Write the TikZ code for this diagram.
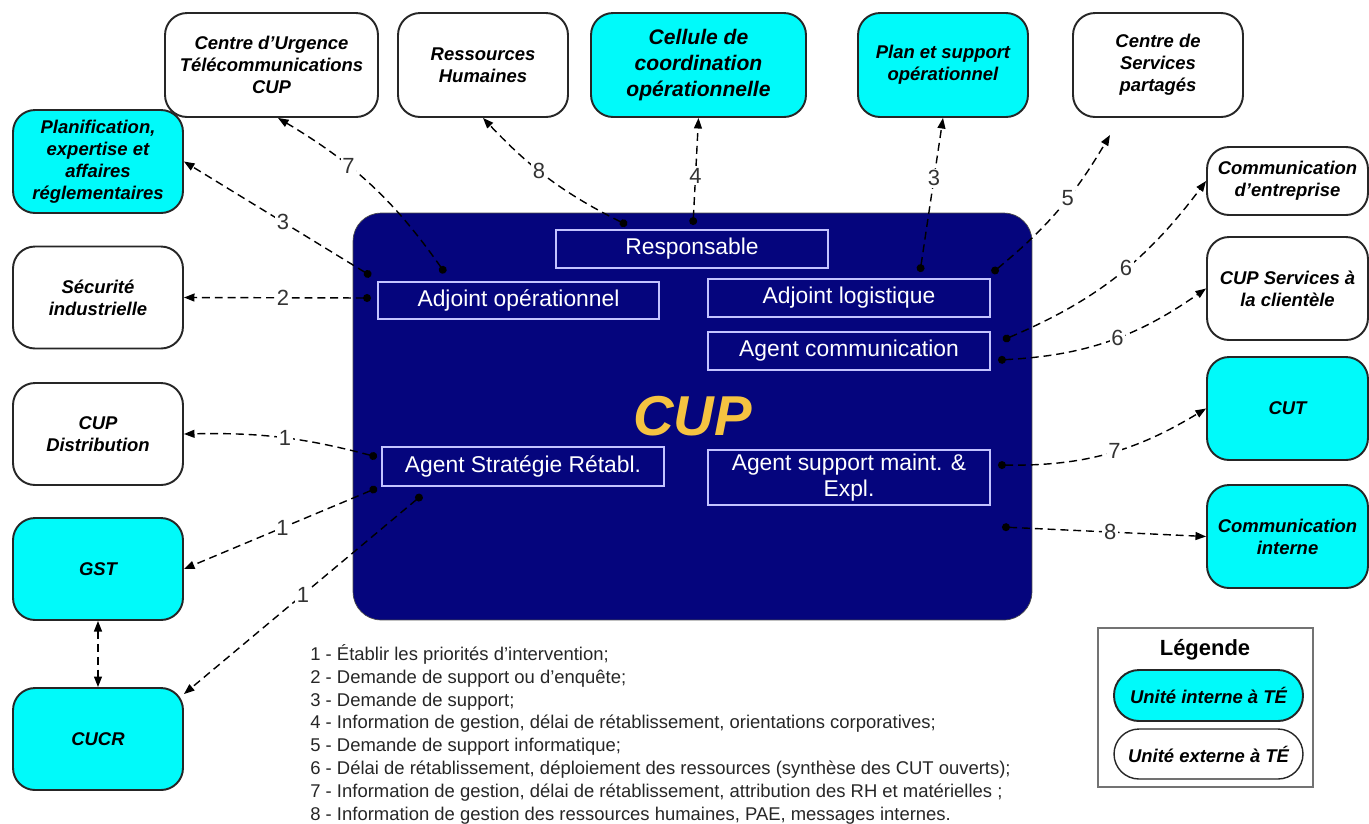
\documentclass[tikz,border=0pt]{standalone}
\usepackage{fontspec}
\setmainfont{Liberation Sans}
\usetikzlibrary{arrows.meta}

\definecolor{cyanTE}{RGB}{0,250,250}
\definecolor{navyTE}{RGB}{5,5,125}
\definecolor{cupgold}{RGB}{245,195,65}
\definecolor{posteline}{RGB}{195,195,255}

\begin{document}
\begin{tikzpicture}[x=0.02cm, y=-0.02cm,
        unit/.style={draw=black!85, line width=1.1pt, rounded corners=0.44cm, align=center, font=\bfseries\itshape\fontsize{10.5}{12.5}\selectfont},
        interne/.style={unit, fill=cyanTE},
        externe/.style={unit, fill=white},
        poste/.style={draw=posteline, line width=0.8pt, text=white, align=center, inner sep=1pt, font=\fontsize{13}{14.8}\selectfont},
        flux/.style={line width=0.8pt, dash pattern=on 4.5pt off 2.8pt, {Circle[length=4.5pt]}-{Triangle[length=6pt,width=4.5pt]}},
        num/.style={fill=white, inner sep=1pt, text=black!80, font=\fontsize{12.5}{12.5}\selectfont}]
        \useasboundingbox (0,0) rectangle (1369,823);

        % Central unit and its posts
        \node[draw=black!70, fill=navyTE, rounded corners=0.56cm, minimum width=13.58cm, minimum height=8.14cm,
              text=cupgold, font=\bfseries\itshape\fontsize{32}{32}\selectfont] (cup) at (692.5,416.5) {CUP};
        \node[poste, minimum width=5.44cm, minimum height=0.76cm] (resp) at (692,249) {Responsable};
        \node[poste, minimum width=5.62cm, minimum height=0.74cm] (adjop) at (518.5,300.5) {Adjoint opérationnel};
        \node[poste, minimum width=5.64cm, minimum height=0.76cm] (adjlog) at (849,298) {Adjoint logistique};
        \node[poste, minimum width=5.64cm, minimum height=0.76cm] (agcom) at (849,351) {Agent communication};
        \node[poste, minimum width=5.64cm, minimum height=0.78cm] (agstrat) at (523,466.5) {Agent Stratégie Rétabl.};
        \node[poste, minimum width=5.64cm, minimum height=1.1cm] (agsup) at (849,477.5) {Agent support maint. \&\\Expl.};

        % Top row
        \node[externe, minimum width=4.26cm, minimum height=2.08cm] (urgence) at (271.5,65) {Centre d’Urgence\\Télécommunications\\CUP};
        \node[externe, minimum width=3.4cm, minimum height=2.08cm] (rh) at (483,65) {Ressources\\Humaines};
        \node[interne, minimum width=4.3cm, minimum height=2.08cm, font=\bfseries\itshape\fontsize{12}{14.7}\selectfont] (cellule) at (698.5,65) {Cellule de\\coordination\\opérationnelle};
        \node[interne, minimum width=3.4cm, minimum height=2.08cm] (plan) at (943,65) {Plan et support\\opérationnel};
        \node[externe, minimum width=3.4cm, minimum height=2.08cm] (csp) at (1158,65) {Centre de\\Services\\partagés};

        % Left column
        \node[interne, minimum width=3.4cm, minimum height=2.06cm] (planif) at (98,161.5) {Planification,\\expertise et\\affaires\\réglementaires};
        \node[externe, minimum width=3.4cm, minimum height=2.04cm] (securite) at (98,297.5) {Sécurité\\industrielle};
        \node[externe, minimum width=3.4cm, minimum height=2.04cm] (distrib) at (98,434) {CUP\\Distribution};
        \node[interne, minimum width=3.4cm, minimum height=2.04cm] (gst) at (98,569) {GST};
        \node[interne, minimum width=3.4cm, minimum height=2.04cm] (cucr) at (98,739) {CUCR};

        % Right column
        \node[externe, minimum width=3.22cm, minimum height=1.36cm] (comment) at (1287.5,181) {Communication\\d’entreprise};
        \node[externe, minimum width=3.22cm, minimum height=2.06cm] (servclient) at (1287.5,288.5) {CUP Services à\\la clientèle};
        \node[interne, minimum width=3.22cm, minimum height=2.06cm] (cut) at (1287.5,408.5) {CUT};
        \node[interne, minimum width=3.22cm, minimum height=2.06cm] (comint) at (1287.5,536.5) {Communication\\interne};

        % Start points of the flows
        \coordinate (d7a) at (445,273);
        \coordinate (d3a) at (371,276);
        \coordinate (d2) at (371,298);
        \coordinate (d8a) at (627,225);
        \coordinate (d4) at (693,225);
        \coordinate (d3b) at (920,272);
        \coordinate (d5) at (992,273);
        \coordinate (d6a) at (1003,340);
        \coordinate (d6b) at (998,360);
        \coordinate (d7b) at (998,465);
        \coordinate (d8b) at (1002,527);
        \coordinate (d1a) at (377,457);
        \coordinate (d1b) at (377,488);
        \coordinate (d1c) at (422,495);
        \coordinate (t5) at (1110,135);

        % Flows
        \draw[flux] (d7a) to[bend right=12] node[num, pos=0.64] {7} ([xshift=0.13cm]urgence.south);
        \draw[flux] (d3a) -- node[num, pos=0.47] {3} (planif.east);
        \draw[flux] (d2) -- node[num, pos=0.47] {2} (securite.east);
        \draw[flux] (d8a) to[bend left=10] node[num, pos=0.58] {8} (rh.south);
        \draw[flux] (d4) -- node[num, pos=0.46] {4} (cellule.south);
        \draw[flux] (d3b) -- node[num, pos=0.61] {3} (plan.south);
        \draw[flux] (d5) to[bend right=10] node[num, pos=0.59] {5} (t5);
        \draw[flux] (d6a) to[bend right=15] node[num, pos=0.55] {6} (comment.west);
        \draw[flux] (d6b) to[bend right=16] node[num, pos=0.55] {6} (servclient.west);
        \draw[flux] (d7b) to[bend right=16] node[num, pos=0.54] {7} (cut.west);
        \draw[flux] (d8b) -- node[num, pos=0.53] {8} (comint.west);
        \draw[flux] (d1a) to[bend right=8] node[num, pos=0.48] {1} (distrib.east);
        \draw[flux] (d1b) -- node[num, pos=0.49] {1} (gst.east);
        \draw[flux] (d1c) -- node[num, pos=0.5] {1} ([yshift=-0.14cm]cucr.north east);
        \draw[line width=0.8pt, dash pattern=on 4.5pt off 2.8pt, {Triangle[length=6pt,width=4.5pt]}-{Triangle[length=6pt,width=4.5pt]}] (gst.south) -- (cucr.north);

        % Key to the numbers
        \node[anchor=north west, inner sep=0pt, align=left, text=black!85, font=\fontsize{10.5}{13}\selectfont] (notes) at (310,644) {%
            1 - Établir les priorités d’intervention;\\
            2 - Demande de support ou d’enquête;\\
            3 - Demande de support;\\
            4 - Information de gestion, délai de rétablissement, orientations corporatives;\\
            5 - Demande de support informatique;\\
            6 - Délai de rétablissement, déploiement des ressources (synthèse des CUT ouverts);\\
            7 - Information de gestion, délai de rétablissement, attribution des RH et matérielles ;\\
            8 - Information de gestion des ressources humaines, PAE, messages internes.};

        % Legend
        \node[draw=black!55, line width=1pt, minimum width=4.3cm, minimum height=3.18cm] (legende) at (1205.5,707.5) {};
        \node[font=\bfseries\fontsize{12.5}{12.5}\selectfont] (legtitre) at (1205,650) {Légende};
        \node[interne, rounded corners=0.5cm, minimum width=3.78cm, minimum height=1.02cm] (leginterne) at (1208.5,695.5) {Unité interne à TÉ};
        \node[externe, line width=0.8pt, rounded corners=0.5cm, minimum width=3.78cm, minimum height=1cm] (legexterne) at (1208.5,754) {Unité externe à TÉ};
    \end{tikzpicture}
\end{document}
